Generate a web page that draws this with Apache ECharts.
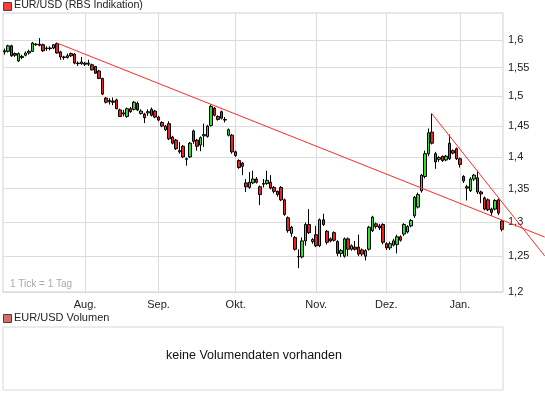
<!DOCTYPE html>
<html><head><meta charset="utf-8">
<script src="https://cdn.jsdelivr.net/npm/echarts@6/dist/echarts.min.js"></script>
<style>html,body{margin:0;padding:0;background:#fff}#c{width:545px;height:395px}</style>
</head><body><div id="c"></div>
<script>
// Month labels on the x axis and the index of the first trading day of each month
const monthLabels = ['Aug.', 'Sep.', 'Okt.', 'Nov.', 'Dez.', 'Jan.'];
const monthStartIdx = [23, 44, 66, 89, 109, 130];
// Price tick labels (log scale)
const priceTicks = [1.2, 1.25, 1.3, 1.35, 1.4, 1.45, 1.5, 1.55, 1.6];

// Daily candles EUR/USD, Jul 2008 - Jan 2009
const open = [1.578,1.579,1.589,1.575,1.562,1.568,1.572,1.576,1.579,1.592,1.592,1.591,1.584,1.585,1.585,1.593,1.578,1.569,1.568,1.575,1.574,1.558,1.557,1.558,1.556,1.555,1.552,1.544,1.531,1.497,1.491,1.492,1.494,1.477,1.470,1.466,1.479,1.478,1.488,1.471,1.470,1.472,1.478,1.475,1.465,1.456,1.444,1.454,1.432,1.427,1.408,1.417,1.397,1.400,1.442,1.427,1.419,1.434,1.433,1.451,1.480,1.466,1.474,1.460,1.435,1.435,1.408,1.394,1.390,1.359,1.352,1.359,1.365,1.353,1.357,1.358,1.360,1.352,1.346,1.352,1.333,1.306,1.283,1.277,1.2494,1.249,1.272,1.296,1.271,1.281,1.265,1.303,1.286,1.275,1.284,1.271,1.254,1.250,1.275,1.260,1.263,1.263,1.259,1.250,1.260,1.287,1.297,1.294,1.296,1.268,1.262,1.266,1.267,1.278,1.282,1.285,1.294,1.309,1.322,1.347,1.369,1.405,1.440,1.405,1.396,1.401,1.395,1.422,1.410,1.413,1.397,1.369,1.353,1.347,1.365,1.367,1.345,1.336,1.333,1.319,1.319,1.333,1.301];
const high = [1.584,1.591,1.591,1.577,1.577,1.573,1.579,1.582,1.596,1.594,1.603,1.593,1.588,1.588,1.592,1.595,1.580,1.571,1.575,1.577,1.576,1.561,1.569,1.560,1.564,1.557,1.553,1.546,1.532,1.499,1.497,1.498,1.496,1.479,1.477,1.481,1.482,1.492,1.491,1.478,1.472,1.478,1.481,1.477,1.467,1.458,1.452,1.458,1.434,1.429,1.424,1.419,1.399,1.424,1.444,1.429,1.433,1.454,1.452,1.486,1.482,1.468,1.476,1.465,1.446,1.437,1.410,1.396,1.392,1.365,1.376,1.378,1.368,1.355,1.365,1.378,1.371,1.354,1.347,1.354,1.335,1.308,1.294,1.279,1.260,1.277,1.299,1.319,1.276,1.294,1.305,1.312,1.288,1.277,1.286,1.273,1.260,1.277,1.277,1.267,1.272,1.281,1.261,1.260,1.294,1.309,1.299,1.297,1.298,1.270,1.271,1.275,1.281,1.280,1.298,1.295,1.304,1.339,1.344,1.373,1.410,1.446,1.471,1.408,1.401,1.402,1.403,1.436,1.412,1.415,1.399,1.371,1.356,1.368,1.373,1.378,1.347,1.338,1.335,1.321,1.334,1.335,1.303];
const low = [1.573,1.577,1.569,1.569,1.560,1.565,1.570,1.573,1.578,1.589,1.588,1.578,1.580,1.581,1.583,1.575,1.564,1.564,1.566,1.569,1.556,1.553,1.555,1.553,1.553,1.545,1.539,1.530,1.502,1.488,1.486,1.485,1.478,1.465,1.466,1.464,1.472,1.476,1.475,1.469,1.455,1.467,1.466,1.463,1.458,1.448,1.442,1.427,1.420,1.411,1.405,1.398,1.386,1.398,1.421,1.410,1.409,1.416,1.431,1.449,1.466,1.459,1.461,1.456,1.433,1.405,1.400,1.381,1.371,1.345,1.350,1.357,1.358,1.325,1.352,1.356,1.349,1.343,1.338,1.331,1.309,1.284,1.278,1.258,1.233,1.247,1.265,1.282,1.268,1.263,1.263,1.294,1.267,1.270,1.271,1.250,1.249,1.248,1.250,1.258,1.258,1.250,1.250,1.244,1.258,1.285,1.290,1.288,1.267,1.259,1.259,1.264,1.254,1.271,1.279,1.283,1.292,1.306,1.320,1.344,1.366,1.401,1.420,1.381,1.392,1.392,1.393,1.395,1.404,1.395,1.383,1.359,1.332,1.345,1.362,1.342,1.328,1.317,1.316,1.309,1.317,1.310,1.286];
const close = [1.580,1.589,1.571,1.572,1.575,1.570,1.576,1.579,1.594,1.591,1.590,1.580,1.585,1.584,1.591,1.576,1.569,1.568,1.571,1.571,1.558,1.557,1.560,1.556,1.558,1.546,1.540,1.531,1.504,1.490,1.493,1.490,1.479,1.466,1.472,1.479,1.474,1.490,1.477,1.475,1.464,1.474,1.468,1.465,1.460,1.450,1.450,1.429,1.422,1.413,1.410,1.400,1.396,1.422,1.425,1.417,1.431,1.436,1.450,1.483,1.468,1.461,1.463,1.461,1.444,1.408,1.402,1.383,1.385,1.353,1.360,1.365,1.360,1.341,1.358,1.363,1.351,1.346,1.341,1.333,1.311,1.287,1.292,1.260,1.249,1.272,1.296,1.284,1.274,1.265,1.303,1.296,1.270,1.272,1.273,1.254,1.258,1.275,1.260,1.265,1.260,1.253,1.253,1.258,1.292,1.307,1.293,1.291,1.270,1.262,1.268,1.272,1.278,1.273,1.296,1.293,1.302,1.337,1.341,1.371,1.405,1.439,1.422,1.392,1.399,1.394,1.401,1.397,1.406,1.397,1.388,1.362,1.351,1.365,1.371,1.345,1.342,1.319,1.318,1.314,1.332,1.313,1.289];

// Trend lines: [day index, price] end points
const trendLine1 = [[15, 1.594], [154.2, 1.2776]];
const trendLine2 = [[122, 1.4705], [154.2, 1.2504]];

const ln = Math.log;
const candles = open.map((o, i) => [i, ln(o), ln(close[i]), ln(low[i]), ln(high[i])]);
const tickVals = priceTicks.map(ln);
const fmtPrice = v => String(parseFloat(Math.exp(v).toFixed(2))).replace('.', ',');
const FONT = 'Liberation Sans, Arial, sans-serif';

// main plot: x from -0.4 to 142.3 over 500px; overlay grid for trend lines spans to the canvas edge
const X_MIN = -0.4, X_MAX = 142.3, PLOT_W = 500, OVER_W = 542;
const X_MAX_OVER = X_MIN + (X_MAX - X_MIN) * OVER_W / PLOT_W;
const Y_MIN = ln(1.2), Y_MAX = ln(1.6496);

const chart = echarts.init(document.getElementById('c'), null, {renderer: 'canvas'});
chart.setOption({
  animation: false,
  backgroundColor: '#fff',
  grid: [
    {left: 3, width: PLOT_W, top: 13, bottom: 103, show: true, borderColor: '#cfcfcf', borderWidth: 1, outerBoundsMode: 'none', containLabel: false},
    {left: 3, width: PLOT_W, top: 327, bottom: 5, show: true, borderColor: '#d8d8d8', borderWidth: 1, outerBoundsMode: 'none', containLabel: false},
    {left: 3, width: OVER_W, top: 13, bottom: 103, show: false, outerBoundsMode: 'none', containLabel: false}
  ],
  xAxis: [{
    type: 'value', min: X_MIN, max: X_MAX, gridIndex: 0,
    axisLine: {show: false},
    axisTick: {show: false, customValues: monthStartIdx},
    axisLabel: {customValues: monthStartIdx, formatter: v => monthLabels[monthStartIdx.indexOf(Math.round(v))] || '',
      color: '#222', fontSize: 11, fontFamily: FONT, margin: 7},
    splitLine: {show: true, lineStyle: {color: '#dcdcdc', width: 1}}
  },
  {type: 'value', gridIndex: 1, show: false, min: 0, max: 1},
  {type: 'value', gridIndex: 2, show: false, min: X_MIN, max: X_MAX_OVER}],
  yAxis: [{
    type: 'value', position: 'right', min: Y_MIN, max: Y_MAX, gridIndex: 0,
    axisLine: {show: false},
    axisTick: {show: false, customValues: tickVals},
    axisLabel: {customValues: tickVals, formatter: fmtPrice, color: '#222', fontSize: 11, fontFamily: FONT, margin: 5},
    splitLine: {show: true, lineStyle: {color: '#dcdcdc', width: 1}}
  },
  {type: 'value', gridIndex: 1, show: false, min: 0, max: 1},
  {type: 'value', gridIndex: 2, show: false, min: Y_MIN, max: Y_MAX}],
  series: [{
    type: 'candlestick', name: 'EUR/USD', xAxisIndex: 0, yAxisIndex: 0,
    data: candles, barWidth: 3,
    itemStyle: {color: '#2ee02e', color0: '#ee2020', borderColor: '#000', borderColor0: '#000', borderColorDoji: '#000', borderWidth: 1}
  }, {
    type: 'line', xAxisIndex: 2, yAxisIndex: 2, data: trendLine1.map(p => [p[0], ln(p[1])]), symbol: 'none', silent: true,
    lineStyle: {color: '#ff2a2a', width: 1}
  }, {
    type: 'line', xAxisIndex: 2, yAxisIndex: 2, data: trendLine2.map(p => [p[0], ln(p[1])]), symbol: 'none', silent: true,
    lineStyle: {color: '#ff2a2a', width: 1}
  }],
  graphic: [
    {type: 'rect', left: 3, top: 2, shape: {width: 8, height: 8}, style: {fill: '#ff3b3b', stroke: '#444', lineWidth: 1}},
    {type: 'text', left: 14, top: 0, style: {text: 'EUR/USD (RBS Indikation)', fill: '#222', font: '10.7px ' + FONT}},
    {type: 'text', left: 10, top: 279, style: {text: '1 Tick = 1 Tag', fill: '#aaa', font: '10px ' + FONT}},
    {type: 'rect', left: 3, top: 314, shape: {width: 8, height: 8}, style: {fill: '#d86a6a', stroke: '#444', lineWidth: 1}},
    {type: 'text', left: 14, top: 312, style: {text: 'EUR/USD Volumen', fill: '#222', font: '11px ' + FONT}},
    {type: 'text', x: 254, y: 356, style: {text: 'keine Volumendaten vorhanden', fill: '#111', font: '12.5px ' + FONT, align: 'center', verticalAlign: 'middle'}}
  ]
});
</script></body></html>
